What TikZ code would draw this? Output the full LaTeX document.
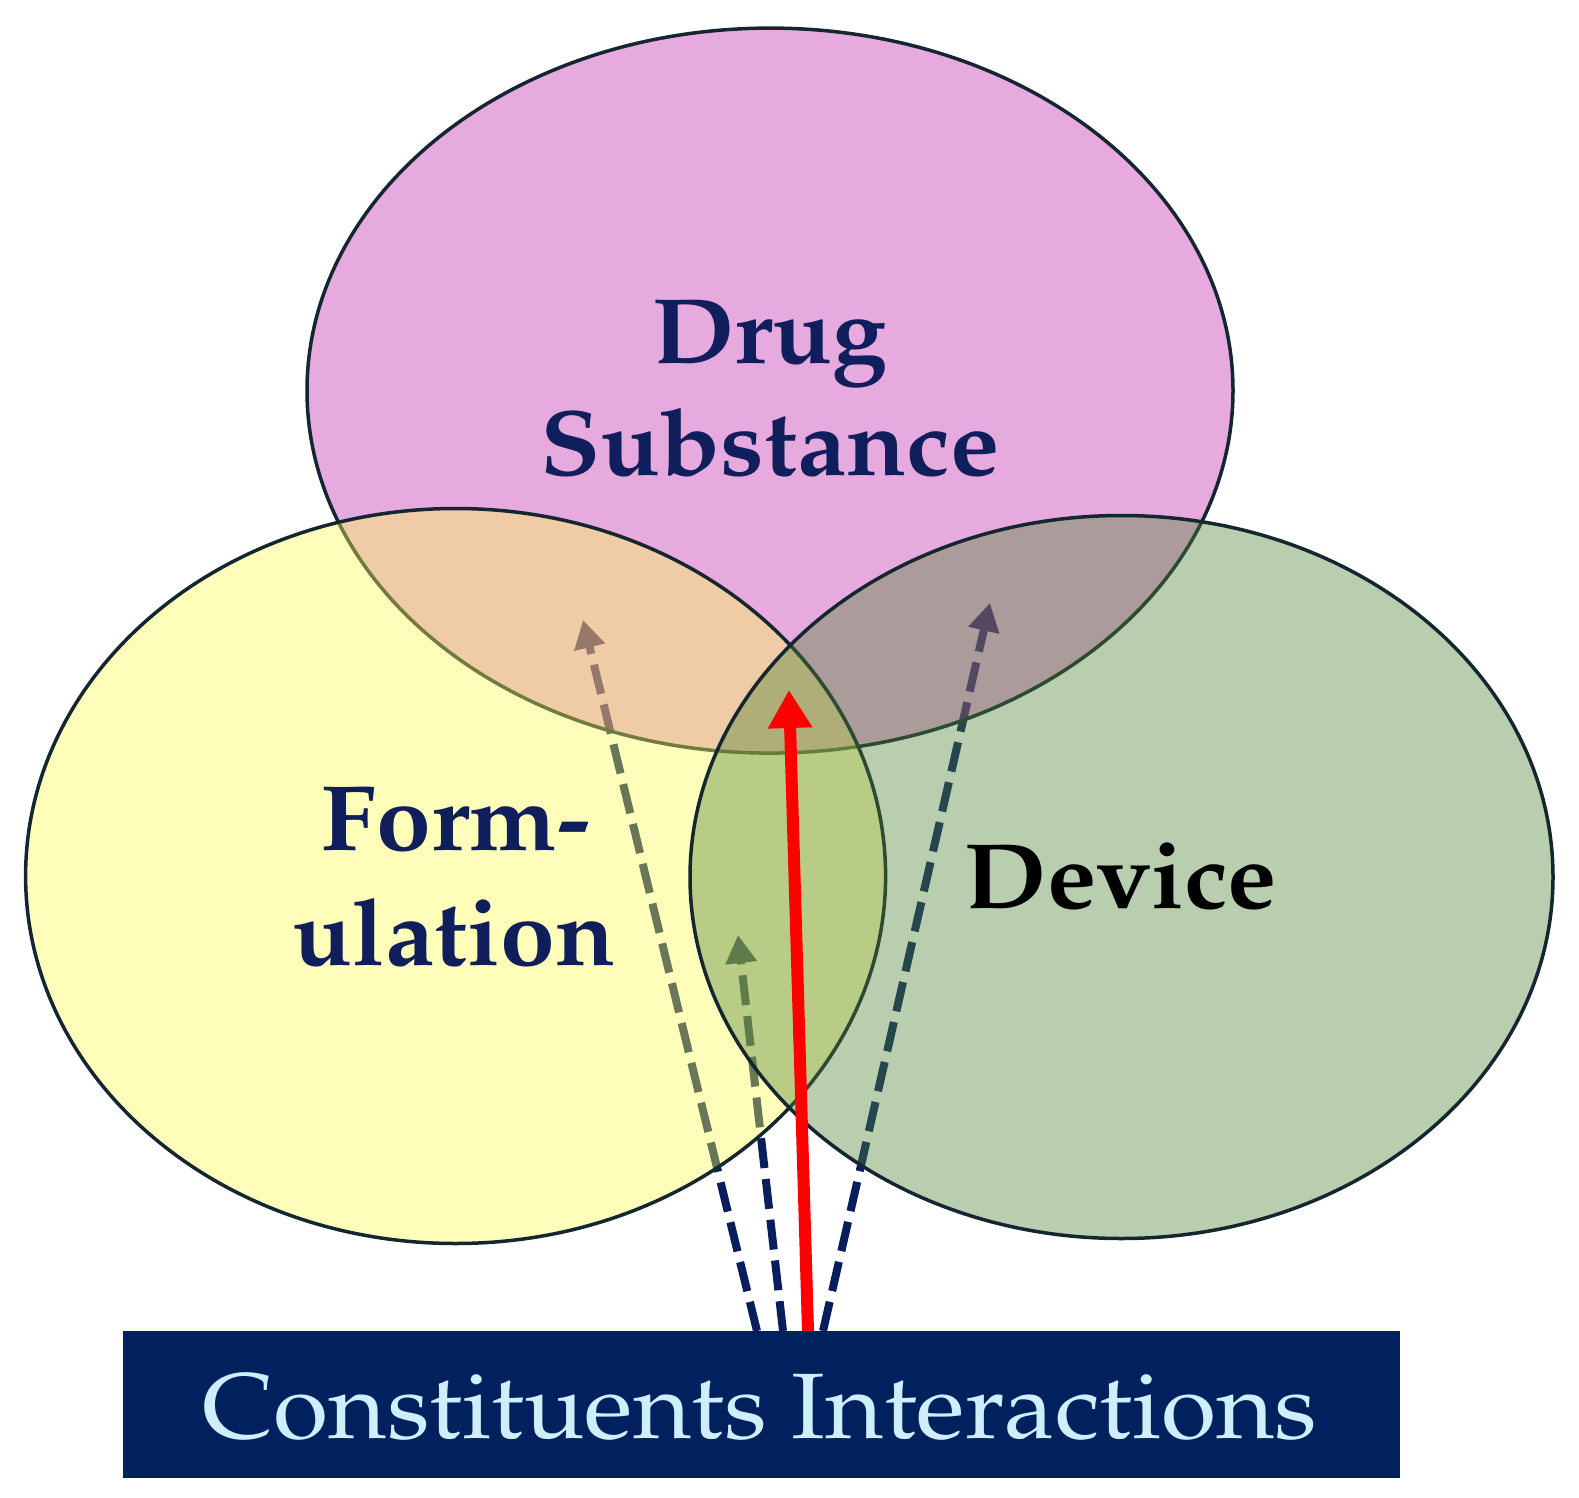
\documentclass[tikz,border=0pt]{standalone}
\usepackage[T1]{fontenc}
\usepackage{mathpazo}
\usetikzlibrary{shapes.geometric,arrows.meta}
\definecolor{pinkb}{RGB}{195,42,172}
\definecolor{yelb}{RGB}{252,252,82}
\definecolor{devb}{RGB}{80,132,55}
\definecolor{outl}{RGB}{20,38,48}
\definecolor{navy}{RGB}{10,30,92}
\definecolor{txtnavy}{RGB}{16,30,92}
\definecolor{boxnavy}{RGB}{0,32,94}
\definecolor{boxtxt}{RGB}{205,238,250}
\begin{document}
\begin{tikzpicture}[x=1pt,y=-1pt,
  venn/.style={ellipse, draw=outl, line width=3.5pt, fill opacity=0.4, draw opacity=1, inner sep=0pt},
  dasharr/.style={draw=navy, line width=8pt, dash pattern=on 30pt off 11pt, -{Triangle[length=28pt,width=30pt]}},
  redarr/.style={draw=red, line width=12pt, -{Triangle[length=38pt,width=42pt]}},
  bigbold/.style={font=\fontsize{93}{110}\selectfont\bfseries, inner sep=0pt, anchor=base, xscale=1.06, transform shape},
  boxfont/.style={font=\fontsize{93}{110}\selectfont, text=boxtxt, inner sep=0pt, anchor=base, xscale=1.08, transform shape}
]
\useasboundingbox (0,0) rectangle (1579,1498);
% arrow end points
\coordinate (s1) at (757,1331);
\coordinate (s2) at (783,1331);
\coordinate (s3) at (823,1331);
\coordinate (sr) at (808,1331);
\coordinate (t1) at (583,620);
\coordinate (t2) at (738,935);
\coordinate (t3) at (990,603);
\coordinate (tr) at (789,690);
% dashed arrows (under the translucent circles)
\draw[dasharr] (s1) -- (t1);
\draw[dasharr] (s2) -- (t2);
\draw[dasharr] (s3) -- (t3);
% ellipses
\node[venn, fill=pinkb, minimum width=926pt, minimum height=725pt] (drug) at (770,390.6) {};
\node[venn, fill=yelb, minimum width=860pt, minimum height=735pt] (form) at (455.6,876) {};
\node[venn, fill=devb, minimum width=863pt, minimum height=723pt] (dev) at (1121.5,877) {};
% red arrow
\draw[redarr] (sr) -- (tr);
% labels
\node[bigbold, text=txtnavy] (drug1) at (770,363) {Drug};
\node[bigbold, text=txtnavy] (drug2) at (770,475) {Substance};
\node[bigbold, text=txtnavy] (form1) at (456,850) {Form-};
\node[bigbold, text=txtnavy] (form2) at (454,965) {ulation};
\node[bigbold, text=black] (dev1) at (1121,908) {Device};
% bottom box
\node[fill=boxnavy, minimum width=1277pt, minimum height=147pt, inner sep=0pt, anchor=north west] (boxn) at (123,1331) {};
\node[boxfont] (boxlbl) at (760,1438) {Constituents Interactions};
\end{tikzpicture}
\end{document}
